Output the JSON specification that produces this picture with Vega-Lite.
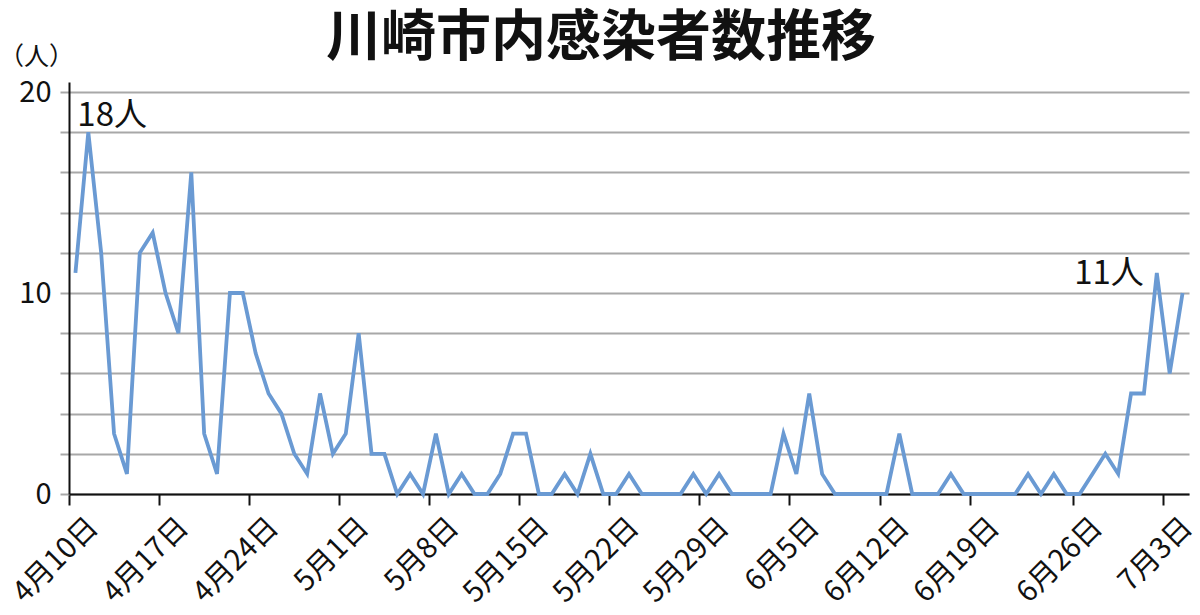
{
  "$schema": "https://vega.github.io/schema/vega-lite/v6.json",
  "width": 1120,
  "height": 412,
  "autosize": {"type": "none"},
  "padding": {"left": 69, "top": 82, "right": 11, "bottom": 121},
  "background": "white",
  "config": {
    "view": {"stroke": null},
    "font": "Noto Sans CJK JP"
  },
  "title": {
    "text": "川崎市内感染者数推移",
    "fontSize": 55,
    "fontWeight": "bold",
    "font": "Noto Sans CJK JP",
    "color": "#111111",
    "anchor": "middle",
    "frame": "group",
    "dx": -28,
    "offset": -23
  },
  "data": {
    "values": [
      {"day": 0, "n": 11}, {"day": 1, "n": 18}, {"day": 2, "n": 12}, {"day": 3, "n": 3},
      {"day": 4, "n": 1}, {"day": 5, "n": 12}, {"day": 6, "n": 13}, {"day": 7, "n": 10},
      {"day": 8, "n": 8}, {"day": 9, "n": 16}, {"day": 10, "n": 3}, {"day": 11, "n": 1},
      {"day": 12, "n": 10}, {"day": 13, "n": 10}, {"day": 14, "n": 7}, {"day": 15, "n": 5},
      {"day": 16, "n": 4}, {"day": 17, "n": 2}, {"day": 18, "n": 1}, {"day": 19, "n": 5},
      {"day": 20, "n": 2}, {"day": 21, "n": 3}, {"day": 22, "n": 8}, {"day": 23, "n": 2},
      {"day": 24, "n": 2}, {"day": 25, "n": 0}, {"day": 26, "n": 1}, {"day": 27, "n": 0},
      {"day": 28, "n": 3}, {"day": 29, "n": 0}, {"day": 30, "n": 1}, {"day": 31, "n": 0},
      {"day": 32, "n": 0}, {"day": 33, "n": 1}, {"day": 34, "n": 3}, {"day": 35, "n": 3},
      {"day": 36, "n": 0}, {"day": 37, "n": 0}, {"day": 38, "n": 1}, {"day": 39, "n": 0},
      {"day": 40, "n": 2}, {"day": 41, "n": 0}, {"day": 42, "n": 0}, {"day": 43, "n": 1},
      {"day": 44, "n": 0}, {"day": 45, "n": 0}, {"day": 46, "n": 0}, {"day": 47, "n": 0},
      {"day": 48, "n": 1}, {"day": 49, "n": 0}, {"day": 50, "n": 1}, {"day": 51, "n": 0},
      {"day": 52, "n": 0}, {"day": 53, "n": 0}, {"day": 54, "n": 0}, {"day": 55, "n": 3},
      {"day": 56, "n": 1}, {"day": 57, "n": 5}, {"day": 58, "n": 1}, {"day": 59, "n": 0},
      {"day": 60, "n": 0}, {"day": 61, "n": 0}, {"day": 62, "n": 0}, {"day": 63, "n": 0},
      {"day": 64, "n": 3}, {"day": 65, "n": 0}, {"day": 66, "n": 0}, {"day": 67, "n": 0},
      {"day": 68, "n": 1}, {"day": 69, "n": 0}, {"day": 70, "n": 0}, {"day": 71, "n": 0},
      {"day": 72, "n": 0}, {"day": 73, "n": 0}, {"day": 74, "n": 1}, {"day": 75, "n": 0},
      {"day": 76, "n": 1}, {"day": 77, "n": 0}, {"day": 78, "n": 0}, {"day": 79, "n": 1},
      {"day": 80, "n": 2}, {"day": 81, "n": 1}, {"day": 82, "n": 5}, {"day": 83, "n": 5},
      {"day": 84, "n": 11}, {"day": 85, "n": 6}, {"day": 86, "n": 10}
    ]
  },
  "encoding": {
    "x": {
      "field": "day",
      "type": "ordinal",
      "scale": {"type": "band", "paddingInner": 0, "paddingOuter": 0},
      "axis": {
        "title": null,
        "bandPosition": 0,
        "values": [0, 7, 14, 21, 28, 35, 42, 49, 56, 63, 70, 78, 85],
        "labelExpr": "['4月10日','4月17日','4月24日','5月1日','5月8日','5月15日','5月22日','5月29日','6月5日','6月12日','6月19日','6月26日','7月3日'][indexof([0,7,14,21,28,35,42,49,56,63,70,78,85], datum.value)]",
        "labelAngle": -45,
        "labelAlign": "right",
        "labelBaseline": "middle",
        "labelFontSize": 29,
        "labelColor": "#111111",
        "labelPadding": 17,
        "labelOffset": 18,
        "labelBound": false,
        "labelOverlap": false,
        "domainColor": "#111111",
        "domainWidth": 2,
        "tickColor": "#111111",
        "tickWidth": 2,
        "tickSize": 11,
        "grid": false
      }
    },
    "y": {
      "field": "n",
      "type": "quantitative",
      "scale": {"domain": [0, 20.5], "nice": false, "zero": true},
      "axis": {
        "title": "（人）",
        "titleAngle": 0,
        "titleX": -33,
        "titleY": -26,
        "titleAlign": "center",
        "titleBaseline": "middle",
        "titleFontSize": 25,
        "titleFontWeight": "normal",
        "titleColor": "#111111",
        "values": [0, 2, 4, 6, 8, 10, 12, 14, 16, 18, 20],
        "labelExpr": "datum.value % 10 === 0 ? datum.label : ''",
        "labelFontSize": 29,
        "labelColor": "#111111",
        "labelPadding": 9,
        "grid": true,
        "gridColor": "#a8a8a8",
        "gridWidth": 2,
        "tickColor": "#a8a8a8",
        "tickWidth": 2,
        "tickSize": 9,
        "domainColor": "#111111",
        "domainWidth": 2
      }
    }
  },
  "layer": [
    {
      "mark": {"type": "line", "color": "#6a9ad3", "strokeWidth": 3.8, "strokeJoin": "miter"}
    },
    {
      "data": {"values": [{"day": 1, "n": 18, "label": "18人"}]},
      "mark": {"type": "text", "align": "left", "baseline": "bottom", "dx": -11, "dy": 1, "fontSize": 33, "color": "#111111"},
      "encoding": {"text": {"field": "label"}}
    },
    {
      "data": {"values": [{"day": 84, "n": 11, "label": "11人"}]},
      "mark": {"type": "text", "align": "right", "baseline": "middle", "dx": -13, "dy": 1, "fontSize": 33, "color": "#111111"},
      "encoding": {"text": {"field": "label"}}
    }
  ]
}
